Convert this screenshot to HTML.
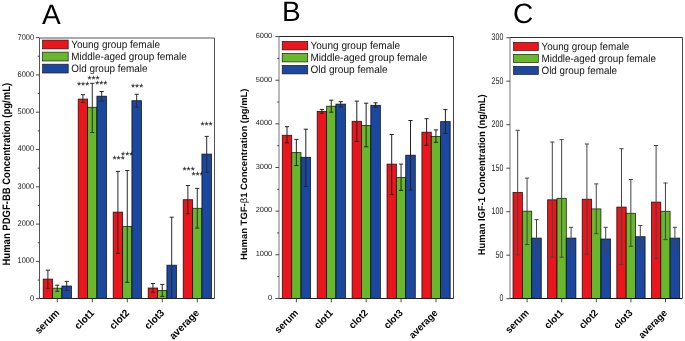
<!DOCTYPE html>
<html><head><meta charset="utf-8"><style>
html,body{margin:0;padding:0;background:#fff;}
svg{display:block;font-family:"Liberation Sans", sans-serif;text-rendering:geometricPrecision;filter:blur(0.3px);}
</style></head><body>
<svg width="685" height="341" viewBox="0 0 685 341">
<rect width="685" height="341" fill="#fff"/>
<text transform="translate(83.1 89)" font-size="10.5" text-anchor="middle" fill="#111">***</text>
<text transform="translate(93.5 82.5)" font-size="10.5" text-anchor="middle" fill="#111">***</text>
<text transform="translate(101.3 88.4)" font-size="10.5" text-anchor="middle" fill="#111">***</text>
<text transform="translate(137.1 91.3)" font-size="10.5" text-anchor="middle" fill="#111">***</text>
<text transform="translate(118.6 163)" font-size="10.5" text-anchor="middle" fill="#111">***</text>
<text transform="translate(127.2 158.7)" font-size="10.5" text-anchor="middle" fill="#111">***</text>
<text transform="translate(188.6 173.9)" font-size="10.5" text-anchor="middle" fill="#111">***</text>
<text transform="translate(197.5 179.2)" font-size="10.5" text-anchor="middle" fill="#111">***</text>
<text transform="translate(206.5 129)" font-size="10.5" text-anchor="middle" fill="#111">***</text>
<rect x="43.2" y="279.1" width="9.4" height="19.4" fill="#EB161C" stroke="#000" stroke-opacity="0.8" stroke-width="0.85"/>
<rect x="52.6" y="288.2" width="9.3" height="10.3" fill="#69B82B" stroke="#000" stroke-opacity="0.8" stroke-width="0.85"/>
<rect x="61.9" y="286" width="9.6" height="12.5" fill="#1C479F" stroke="#000" stroke-opacity="0.8" stroke-width="0.85"/>
<path d="M47.9 270.2V288.3M45.8 270.2H50M45.8 288.3H50" stroke="#2a2a2a" stroke-width="1.0" fill="none"/>
<path d="M57.25 285.2V291.3M55.15 285.2H59.35M55.15 291.3H59.35" stroke="#2a2a2a" stroke-width="1.0" fill="none"/>
<path d="M66.7 281.4V290.5M64.6 281.4H68.8M64.6 290.5H68.8" stroke="#2a2a2a" stroke-width="1.0" fill="none"/>
<rect x="78.2" y="99.1" width="9.4" height="199.4" fill="#EB161C" stroke="#000" stroke-opacity="0.8" stroke-width="0.85"/>
<rect x="87.6" y="107.3" width="9.3" height="191.2" fill="#69B82B" stroke="#000" stroke-opacity="0.8" stroke-width="0.85"/>
<rect x="96.9" y="96.2" width="9.6" height="202.3" fill="#1C479F" stroke="#000" stroke-opacity="0.8" stroke-width="0.85"/>
<path d="M82.9 94.7V102.5M80.8 94.7H85M80.8 102.5H85" stroke="#2a2a2a" stroke-width="1.0" fill="none"/>
<path d="M92.25 83.3V132.5M90.15 83.3H94.35M90.15 132.5H94.35" stroke="#2a2a2a" stroke-width="1.0" fill="none"/>
<path d="M101.7 91.5V101M99.6 91.5H103.8M99.6 101H103.8" stroke="#2a2a2a" stroke-width="1.0" fill="none"/>
<rect x="113.2" y="212.1" width="9.4" height="86.4" fill="#EB161C" stroke="#000" stroke-opacity="0.8" stroke-width="0.85"/>
<rect x="122.6" y="226.4" width="9.3" height="72.1" fill="#69B82B" stroke="#000" stroke-opacity="0.8" stroke-width="0.85"/>
<rect x="131.9" y="100.7" width="9.6" height="197.8" fill="#1C479F" stroke="#000" stroke-opacity="0.8" stroke-width="0.85"/>
<path d="M117.9 171.4V253.3M115.8 171.4H120M115.8 253.3H120" stroke="#2a2a2a" stroke-width="1.0" fill="none"/>
<path d="M127.25 170.5V282.3M125.15 170.5H129.35M125.15 282.3H129.35" stroke="#2a2a2a" stroke-width="1.0" fill="none"/>
<path d="M136.7 94.3V107.1M134.6 94.3H138.8M134.6 107.1H138.8" stroke="#2a2a2a" stroke-width="1.0" fill="none"/>
<rect x="148.2" y="288" width="9.4" height="10.5" fill="#EB161C" stroke="#000" stroke-opacity="0.8" stroke-width="0.85"/>
<rect x="157.6" y="290.5" width="9.3" height="8" fill="#69B82B" stroke="#000" stroke-opacity="0.8" stroke-width="0.85"/>
<rect x="166.9" y="265.2" width="9.6" height="33.3" fill="#1C479F" stroke="#000" stroke-opacity="0.8" stroke-width="0.85"/>
<path d="M152.9 283.5V292.3M150.8 283.5H155M150.8 292.3H155" stroke="#2a2a2a" stroke-width="1.0" fill="none"/>
<path d="M162.25 284.4V296.4M160.15 284.4H164.35M160.15 296.4H164.35" stroke="#2a2a2a" stroke-width="1.0" fill="none"/>
<path d="M171.7 217.2V298.4M169.6 217.2H173.8M169.6 298.4H173.8" stroke="#2a2a2a" stroke-width="1.0" fill="none"/>
<rect x="183.2" y="199.7" width="9.4" height="98.8" fill="#EB161C" stroke="#000" stroke-opacity="0.8" stroke-width="0.85"/>
<rect x="192.6" y="208.3" width="9.3" height="90.2" fill="#69B82B" stroke="#000" stroke-opacity="0.8" stroke-width="0.85"/>
<rect x="201.9" y="154.1" width="9.6" height="144.4" fill="#1C479F" stroke="#000" stroke-opacity="0.8" stroke-width="0.85"/>
<path d="M187.9 185.5V213.8M185.8 185.5H190M185.8 213.8H190" stroke="#2a2a2a" stroke-width="1.0" fill="none"/>
<path d="M197.25 188.4V228.1M195.15 188.4H199.35M195.15 228.1H199.35" stroke="#2a2a2a" stroke-width="1.0" fill="none"/>
<path d="M206.7 136.4V172.4M204.6 136.4H208.8M204.6 172.4H208.8" stroke="#2a2a2a" stroke-width="1.0" fill="none"/>
<path d="M39.5 38H214.5" stroke="#555" stroke-width="1"/>
<path d="M39.5 298.5H214.5" stroke="#222" stroke-width="1"/>
<path d="M39.5 38V298.5" stroke="#555" stroke-width="1"/>
<path d="M214.5 38V298.5" stroke="#555" stroke-width="1"/>
<path d="M35.9 298.7H39.5" stroke="#333" stroke-width="0.9"/>
<text transform="translate(34.1 300.6) scale(0.91 1)" font-size="8.2" text-anchor="end" fill="#222">0</text>
<path d="M37.7 280.05H39.5" stroke="#333" stroke-width="0.9"/>
<path d="M35.9 261.4H39.5" stroke="#333" stroke-width="0.9"/>
<text transform="translate(34.1 263.3) scale(0.91 1)" font-size="8.2" text-anchor="end" fill="#222">1000</text>
<path d="M37.7 242.75H39.5" stroke="#333" stroke-width="0.9"/>
<path d="M35.9 224.1H39.5" stroke="#333" stroke-width="0.9"/>
<text transform="translate(34.1 226) scale(0.91 1)" font-size="8.2" text-anchor="end" fill="#222">2000</text>
<path d="M37.7 205.45H39.5" stroke="#333" stroke-width="0.9"/>
<path d="M35.9 186.8H39.5" stroke="#333" stroke-width="0.9"/>
<text transform="translate(34.1 188.7) scale(0.91 1)" font-size="8.2" text-anchor="end" fill="#222">3000</text>
<path d="M37.7 168.15H39.5" stroke="#333" stroke-width="0.9"/>
<path d="M35.9 149.5H39.5" stroke="#333" stroke-width="0.9"/>
<text transform="translate(34.1 151.4) scale(0.91 1)" font-size="8.2" text-anchor="end" fill="#222">4000</text>
<path d="M37.7 130.85H39.5" stroke="#333" stroke-width="0.9"/>
<path d="M35.9 112.2H39.5" stroke="#333" stroke-width="0.9"/>
<text transform="translate(34.1 114.1) scale(0.91 1)" font-size="8.2" text-anchor="end" fill="#222">5000</text>
<path d="M37.7 93.55H39.5" stroke="#333" stroke-width="0.9"/>
<path d="M35.9 74.9H39.5" stroke="#333" stroke-width="0.9"/>
<text transform="translate(34.1 76.8) scale(0.91 1)" font-size="8.2" text-anchor="end" fill="#222">6000</text>
<path d="M37.7 56.25H39.5" stroke="#333" stroke-width="0.9"/>
<path d="M35.9 37.6H39.5" stroke="#333" stroke-width="0.9"/>
<text transform="translate(34.1 39.5) scale(0.91 1)" font-size="8.2" text-anchor="end" fill="#222">7000</text>
<path d="M57.3 298.5V302.3" stroke="#333" stroke-width="0.9"/>
<text transform="translate(59.9 313.6) rotate(-45) scale(0.96 1)" font-size="10.3" text-anchor="end" font-weight="bold" fill="#000">serum</text>
<path d="M92.3 298.5V302.3" stroke="#333" stroke-width="0.9"/>
<text transform="translate(94.9 313.6) rotate(-45) scale(0.96 1)" font-size="10.3" text-anchor="end" font-weight="bold" fill="#000">clot1</text>
<path d="M127.3 298.5V302.3" stroke="#333" stroke-width="0.9"/>
<text transform="translate(129.9 313.6) rotate(-45) scale(0.96 1)" font-size="10.3" text-anchor="end" font-weight="bold" fill="#000">clot2</text>
<path d="M162.3 298.5V302.3" stroke="#333" stroke-width="0.9"/>
<text transform="translate(164.9 313.6) rotate(-45) scale(0.96 1)" font-size="10.3" text-anchor="end" font-weight="bold" fill="#000">clot3</text>
<path d="M197.3 298.5V302.3" stroke="#333" stroke-width="0.9"/>
<text transform="translate(199.9 313.6) rotate(-45) scale(0.96 1)" font-size="10.3" text-anchor="end" font-weight="bold" fill="#000">average</text>
<rect x="42.6" y="40.1" width="25.6" height="8.8" fill="#EB161C" stroke="#1a1a1a" stroke-width="0.7"/>
<text transform="translate(71.3 47.7) scale(0.93 1)" font-size="10.7" fill="#111">Young group female</text>
<rect x="42.6" y="52.15" width="25.6" height="8.8" fill="#69B82B" stroke="#1a1a1a" stroke-width="0.7"/>
<text transform="translate(71.3 59.75) scale(0.93 1)" font-size="10.7" fill="#111">Middle-aged group female</text>
<rect x="42.6" y="64.2" width="25.6" height="8.8" fill="#1C479F" stroke="#1a1a1a" stroke-width="0.7"/>
<text transform="translate(71.3 71.8) scale(0.93 1)" font-size="10.7" fill="#111">Old group female</text>
<text transform="translate(9.95 174.2) rotate(-90) scale(0.88 1)" font-size="10.8" text-anchor="middle" font-weight="bold" fill="#000">Human PDGF-BB Concentration (pg/mL)</text>
<text transform="translate(42 23.6)" font-size="28" fill="#000">A</text>
<rect x="282.3" y="135.3" width="9.4" height="163.2" fill="#EB161C" stroke="#000" stroke-opacity="0.8" stroke-width="0.85"/>
<rect x="291.7" y="152.6" width="9.3" height="145.9" fill="#69B82B" stroke="#000" stroke-opacity="0.8" stroke-width="0.85"/>
<rect x="301" y="157.3" width="9.6" height="141.2" fill="#1C479F" stroke="#000" stroke-opacity="0.8" stroke-width="0.85"/>
<path d="M287 126.7V142.9M284.9 126.7H289.1M284.9 142.9H289.1" stroke="#222" stroke-width="1.0" fill="none"/>
<path d="M296.35 139.4V165.6M294.25 139.4H298.45M294.25 165.6H298.45" stroke="#222" stroke-width="1.0" fill="none"/>
<path d="M305.8 129.2V186.4M303.7 129.2H307.9M303.7 186.4H307.9" stroke="#222" stroke-width="1.0" fill="none"/>
<rect x="317.2" y="111.4" width="9.4" height="187.1" fill="#EB161C" stroke="#000" stroke-opacity="0.8" stroke-width="0.85"/>
<rect x="326.6" y="106.2" width="9.3" height="192.3" fill="#69B82B" stroke="#000" stroke-opacity="0.8" stroke-width="0.85"/>
<rect x="335.9" y="104.1" width="9.6" height="194.4" fill="#1C479F" stroke="#000" stroke-opacity="0.8" stroke-width="0.85"/>
<path d="M321.9 109.4V113.2M319.8 109.4H324M319.8 113.2H324" stroke="#222" stroke-width="1.0" fill="none"/>
<path d="M331.25 100.2V112.2M329.15 100.2H333.35M329.15 112.2H333.35" stroke="#222" stroke-width="1.0" fill="none"/>
<path d="M340.7 101.6V107M338.6 101.6H342.8M338.6 107H342.8" stroke="#222" stroke-width="1.0" fill="none"/>
<rect x="352.1" y="121.3" width="9.4" height="177.2" fill="#EB161C" stroke="#000" stroke-opacity="0.8" stroke-width="0.85"/>
<rect x="361.5" y="125.5" width="9.3" height="173" fill="#69B82B" stroke="#000" stroke-opacity="0.8" stroke-width="0.85"/>
<rect x="370.8" y="105.3" width="9.6" height="193.2" fill="#1C479F" stroke="#000" stroke-opacity="0.8" stroke-width="0.85"/>
<path d="M356.8 101.1V141.4M354.7 101.1H358.9M354.7 141.4H358.9" stroke="#222" stroke-width="1.0" fill="none"/>
<path d="M366.15 103.2V146.8M364.05 103.2H368.25M364.05 146.8H368.25" stroke="#222" stroke-width="1.0" fill="none"/>
<path d="M375.6 102.8V107.1M373.5 102.8H377.7M373.5 107.1H377.7" stroke="#222" stroke-width="1.0" fill="none"/>
<rect x="387" y="164.1" width="9.4" height="134.4" fill="#EB161C" stroke="#000" stroke-opacity="0.8" stroke-width="0.85"/>
<rect x="396.4" y="177.5" width="9.3" height="121" fill="#69B82B" stroke="#000" stroke-opacity="0.8" stroke-width="0.85"/>
<rect x="405.7" y="155.2" width="9.6" height="143.3" fill="#1C479F" stroke="#000" stroke-opacity="0.8" stroke-width="0.85"/>
<path d="M391.7 134.5V194.6M389.6 134.5H393.8M389.6 194.6H393.8" stroke="#222" stroke-width="1.0" fill="none"/>
<path d="M401.05 164.1V190.4M398.95 164.1H403.15M398.95 190.4H403.15" stroke="#222" stroke-width="1.0" fill="none"/>
<path d="M410.5 120.5V189.9M408.4 120.5H412.6M408.4 189.9H412.6" stroke="#222" stroke-width="1.0" fill="none"/>
<rect x="421.9" y="132.2" width="9.4" height="166.3" fill="#EB161C" stroke="#000" stroke-opacity="0.8" stroke-width="0.85"/>
<rect x="431.3" y="136.4" width="9.3" height="162.1" fill="#69B82B" stroke="#000" stroke-opacity="0.8" stroke-width="0.85"/>
<rect x="440.6" y="121.6" width="9.6" height="176.9" fill="#1C479F" stroke="#000" stroke-opacity="0.8" stroke-width="0.85"/>
<path d="M426.6 118.7V145.3M424.5 118.7H428.7M424.5 145.3H428.7" stroke="#222" stroke-width="1.0" fill="none"/>
<path d="M435.95 129.9V142.3M433.85 129.9H438.05M433.85 142.3H438.05" stroke="#222" stroke-width="1.0" fill="none"/>
<path d="M445.4 109.6V133.4M443.3 109.6H447.5M443.3 133.4H447.5" stroke="#222" stroke-width="1.0" fill="none"/>
<path d="M279 36.5H453.5" stroke="#222" stroke-width="1"/>
<path d="M279 298.5H453.5" stroke="#222" stroke-width="1"/>
<path d="M279 36.5V298.5" stroke="#777" stroke-width="1"/>
<path d="M453.5 36.5V298.5" stroke="#444" stroke-width="1"/>
<path d="M275.4 298.4H279" stroke="#333" stroke-width="0.9"/>
<text transform="translate(272.2 299.7)" font-size="7.4" text-anchor="end" fill="#222">0</text>
<path d="M277.2 276.58H279" stroke="#333" stroke-width="0.9"/>
<path d="M275.4 254.77H279" stroke="#333" stroke-width="0.9"/>
<text transform="translate(272.2 256.07)" font-size="7.4" text-anchor="end" fill="#222">1000</text>
<path d="M277.2 232.95H279" stroke="#333" stroke-width="0.9"/>
<path d="M275.4 211.13H279" stroke="#333" stroke-width="0.9"/>
<text transform="translate(272.2 212.43)" font-size="7.4" text-anchor="end" fill="#222">2000</text>
<path d="M277.2 189.32H279" stroke="#333" stroke-width="0.9"/>
<path d="M275.4 167.5H279" stroke="#333" stroke-width="0.9"/>
<text transform="translate(272.2 168.8)" font-size="7.4" text-anchor="end" fill="#222">3000</text>
<path d="M277.2 145.68H279" stroke="#333" stroke-width="0.9"/>
<path d="M275.4 123.87H279" stroke="#333" stroke-width="0.9"/>
<text transform="translate(272.2 125.17)" font-size="7.4" text-anchor="end" fill="#222">4000</text>
<path d="M277.2 102.05H279" stroke="#333" stroke-width="0.9"/>
<path d="M275.4 80.23H279" stroke="#333" stroke-width="0.9"/>
<text transform="translate(272.2 81.53)" font-size="7.4" text-anchor="end" fill="#222">5000</text>
<path d="M277.2 58.42H279" stroke="#333" stroke-width="0.9"/>
<path d="M275.4 36.6H279" stroke="#333" stroke-width="0.9"/>
<text transform="translate(272.2 37.9)" font-size="7.4" text-anchor="end" fill="#222">6000</text>
<path d="M296.4 298.5V302.3" stroke="#333" stroke-width="0.9"/>
<text transform="translate(298.7 313.6) rotate(-45) scale(0.96 1)" font-size="9.9" text-anchor="end" font-weight="bold" fill="#000">serum</text>
<path d="M331.3 298.5V302.3" stroke="#333" stroke-width="0.9"/>
<text transform="translate(333.6 313.6) rotate(-45) scale(0.96 1)" font-size="9.9" text-anchor="end" font-weight="bold" fill="#000">clot1</text>
<path d="M366.2 298.5V302.3" stroke="#333" stroke-width="0.9"/>
<text transform="translate(368.5 313.6) rotate(-45) scale(0.96 1)" font-size="9.9" text-anchor="end" font-weight="bold" fill="#000">clot2</text>
<path d="M401.1 298.5V302.3" stroke="#333" stroke-width="0.9"/>
<text transform="translate(403.4 313.6) rotate(-45) scale(0.96 1)" font-size="9.9" text-anchor="end" font-weight="bold" fill="#000">clot3</text>
<path d="M436 298.5V302.3" stroke="#333" stroke-width="0.9"/>
<text transform="translate(438.3 313.6) rotate(-45) scale(0.96 1)" font-size="9.9" text-anchor="end" font-weight="bold" fill="#000">average</text>
<rect x="282.2" y="41.4" width="25.5" height="8.5" fill="#EB161C" stroke="#1a1a1a" stroke-width="0.7"/>
<text transform="translate(310.5 49) scale(0.94 1)" font-size="10.7" fill="#111">Young group female</text>
<rect x="282.2" y="53.4" width="25.5" height="8.5" fill="#69B82B" stroke="#1a1a1a" stroke-width="0.7"/>
<text transform="translate(310.5 61) scale(0.94 1)" font-size="10.7" fill="#111">Middle-aged group female</text>
<rect x="282.2" y="65.4" width="25.5" height="8.5" fill="#1C479F" stroke="#1a1a1a" stroke-width="0.7"/>
<text transform="translate(310.5 73) scale(0.94 1)" font-size="10.7" fill="#111">Old group female</text>
<text transform="translate(247.3 174.3) rotate(-90) scale(1.03 1)" font-size="9.2" text-anchor="middle" font-weight="bold" fill="#000">Human TGF-<tspan font-weight="normal">β</tspan>1 Concentration (pg/mL)</text>
<text transform="translate(282 21.4)" font-size="28" fill="#000">B</text>
<rect x="513" y="192.4" width="9.4" height="106.1" fill="#EB161C" stroke="#000" stroke-opacity="0.8" stroke-width="0.85"/>
<rect x="522.4" y="211.2" width="9.3" height="87.3" fill="#69B82B" stroke="#000" stroke-opacity="0.8" stroke-width="0.85"/>
<rect x="531.7" y="238.1" width="9.6" height="60.4" fill="#1C479F" stroke="#000" stroke-opacity="0.8" stroke-width="0.85"/>
<path d="M517.7 130.3V254.8M515.6 130.3H519.8M515.6 254.8H519.8" stroke="#444" stroke-width="1.0" fill="none"/>
<path d="M527.05 178.1V244.6M524.95 178.1H529.15M524.95 244.6H529.15" stroke="#444" stroke-width="1.0" fill="none"/>
<path d="M536.5 219.6V256.3M534.4 219.6H538.6M534.4 256.3H538.6" stroke="#444" stroke-width="1.0" fill="none"/>
<rect x="547.6" y="199.8" width="9.4" height="98.7" fill="#EB161C" stroke="#000" stroke-opacity="0.8" stroke-width="0.85"/>
<rect x="557" y="198.3" width="9.3" height="100.2" fill="#69B82B" stroke="#000" stroke-opacity="0.8" stroke-width="0.85"/>
<rect x="566.3" y="238.1" width="9.6" height="60.4" fill="#1C479F" stroke="#000" stroke-opacity="0.8" stroke-width="0.85"/>
<path d="M552.3 142V257.2M550.2 142H554.4M550.2 257.2H554.4" stroke="#444" stroke-width="1.0" fill="none"/>
<path d="M561.65 139.6V257.2M559.55 139.6H563.75M559.55 257.2H563.75" stroke="#444" stroke-width="1.0" fill="none"/>
<path d="M571.1 227.3V249.9M569 227.3H573.2M569 249.9H573.2" stroke="#444" stroke-width="1.0" fill="none"/>
<rect x="582.2" y="199.2" width="9.4" height="99.3" fill="#EB161C" stroke="#000" stroke-opacity="0.8" stroke-width="0.85"/>
<rect x="591.6" y="208.9" width="9.3" height="89.6" fill="#69B82B" stroke="#000" stroke-opacity="0.8" stroke-width="0.85"/>
<rect x="600.9" y="239" width="9.6" height="59.5" fill="#1C479F" stroke="#000" stroke-opacity="0.8" stroke-width="0.85"/>
<path d="M586.9 144V254.3M584.8 144H589M584.8 254.3H589" stroke="#444" stroke-width="1.0" fill="none"/>
<path d="M596.25 183.9V233.7M594.15 183.9H598.35M594.15 233.7H598.35" stroke="#444" stroke-width="1.0" fill="none"/>
<path d="M605.7 227.3V251.3M603.6 227.3H607.8M603.6 251.3H607.8" stroke="#444" stroke-width="1.0" fill="none"/>
<rect x="616.8" y="207.1" width="9.4" height="91.4" fill="#EB161C" stroke="#000" stroke-opacity="0.8" stroke-width="0.85"/>
<rect x="626.2" y="213.3" width="9.3" height="85.2" fill="#69B82B" stroke="#000" stroke-opacity="0.8" stroke-width="0.85"/>
<rect x="635.5" y="236.7" width="9.6" height="61.8" fill="#1C479F" stroke="#000" stroke-opacity="0.8" stroke-width="0.85"/>
<path d="M621.5 148.7V264.5M619.4 148.7H623.6M619.4 264.5H623.6" stroke="#444" stroke-width="1.0" fill="none"/>
<path d="M630.85 179.5V246.3M628.75 179.5H632.95M628.75 246.3H632.95" stroke="#444" stroke-width="1.0" fill="none"/>
<path d="M640.3 225.5V248.4M638.2 225.5H642.4M638.2 248.4H642.4" stroke="#444" stroke-width="1.0" fill="none"/>
<rect x="651.4" y="202.1" width="9.4" height="96.4" fill="#EB161C" stroke="#000" stroke-opacity="0.8" stroke-width="0.85"/>
<rect x="660.8" y="211.3" width="9.3" height="87.2" fill="#69B82B" stroke="#000" stroke-opacity="0.8" stroke-width="0.85"/>
<rect x="670.1" y="238.1" width="9.6" height="60.4" fill="#1C479F" stroke="#000" stroke-opacity="0.8" stroke-width="0.85"/>
<path d="M656.1 145.5V258.7M654 145.5H658.2M654 258.7H658.2" stroke="#444" stroke-width="1.0" fill="none"/>
<path d="M665.45 183V239.6M663.35 183H667.55M663.35 239.6H667.55" stroke="#444" stroke-width="1.0" fill="none"/>
<path d="M674.9 227.3V248.4M672.8 227.3H677M672.8 248.4H677" stroke="#444" stroke-width="1.0" fill="none"/>
<path d="M510 37.5H682.5" stroke="#333" stroke-width="1"/>
<path d="M510 298.5H682.5" stroke="#111" stroke-width="1"/>
<path d="M510 37.5V298.5" stroke="#777" stroke-width="1"/>
<path d="M682.5 37.5V298.5" stroke="#444" stroke-width="1"/>
<path d="M506.4 298.7H510" stroke="#333" stroke-width="0.9"/>
<text transform="translate(503.3 301.2) scale(0.73 1)" font-size="9.6" text-anchor="end" fill="#222">0</text>
<path d="M506.4 255.2H510" stroke="#333" stroke-width="0.9"/>
<text transform="translate(503.3 257.7) scale(0.73 1)" font-size="9.6" text-anchor="end" fill="#222">50</text>
<path d="M506.4 211.7H510" stroke="#333" stroke-width="0.9"/>
<text transform="translate(503.3 214.2) scale(0.73 1)" font-size="9.6" text-anchor="end" fill="#222">100</text>
<path d="M506.4 168.2H510" stroke="#333" stroke-width="0.9"/>
<text transform="translate(503.3 170.7) scale(0.73 1)" font-size="9.6" text-anchor="end" fill="#222">150</text>
<path d="M506.4 124.7H510" stroke="#333" stroke-width="0.9"/>
<text transform="translate(503.3 127.2) scale(0.73 1)" font-size="9.6" text-anchor="end" fill="#222">200</text>
<path d="M506.4 81.2H510" stroke="#333" stroke-width="0.9"/>
<text transform="translate(503.3 83.7) scale(0.73 1)" font-size="9.6" text-anchor="end" fill="#222">250</text>
<path d="M506.4 37.7H510" stroke="#333" stroke-width="0.9"/>
<text transform="translate(503.3 40.2) scale(0.73 1)" font-size="9.6" text-anchor="end" fill="#222">300</text>
<path d="M527.1 298.5V302.3" stroke="#333" stroke-width="0.9"/>
<text transform="translate(529.4 313.6) rotate(-45) scale(0.96 1)" font-size="9.9" text-anchor="end" font-weight="bold" fill="#000">serum</text>
<path d="M561.7 298.5V302.3" stroke="#333" stroke-width="0.9"/>
<text transform="translate(564 313.6) rotate(-45) scale(0.96 1)" font-size="9.9" text-anchor="end" font-weight="bold" fill="#000">clot1</text>
<path d="M596.3 298.5V302.3" stroke="#333" stroke-width="0.9"/>
<text transform="translate(598.6 313.6) rotate(-45) scale(0.96 1)" font-size="9.9" text-anchor="end" font-weight="bold" fill="#000">clot2</text>
<path d="M630.9 298.5V302.3" stroke="#333" stroke-width="0.9"/>
<text transform="translate(633.2 313.6) rotate(-45) scale(0.96 1)" font-size="9.9" text-anchor="end" font-weight="bold" fill="#000">clot3</text>
<path d="M665.5 298.5V302.3" stroke="#333" stroke-width="0.9"/>
<text transform="translate(667.8 313.6) rotate(-45) scale(0.96 1)" font-size="9.9" text-anchor="end" font-weight="bold" fill="#000">average</text>
<rect x="513.5" y="42.4" width="24.8" height="8" fill="#EB161C" stroke="#1a1a1a" stroke-width="0.7"/>
<text transform="translate(541.5 50) scale(0.93 1)" font-size="10.6" fill="#111">Young group female</text>
<rect x="513.5" y="54.4" width="24.8" height="8" fill="#69B82B" stroke="#1a1a1a" stroke-width="0.7"/>
<text transform="translate(541.5 62) scale(0.93 1)" font-size="10.6" fill="#111">Middle-aged group female</text>
<rect x="513.5" y="66.4" width="24.8" height="8" fill="#1C479F" stroke="#1a1a1a" stroke-width="0.7"/>
<text transform="translate(541.5 74) scale(0.93 1)" font-size="10.6" fill="#111">Old group female</text>
<text transform="translate(485.1 174.85) rotate(-90) scale(0.94 1)" font-size="9.95" text-anchor="middle" font-weight="bold" fill="#000">Human IGF-1 Concentration (ng/mL)</text>
<text transform="translate(513 23)" font-size="28" fill="#000">C</text>
</svg>
</body></html>
